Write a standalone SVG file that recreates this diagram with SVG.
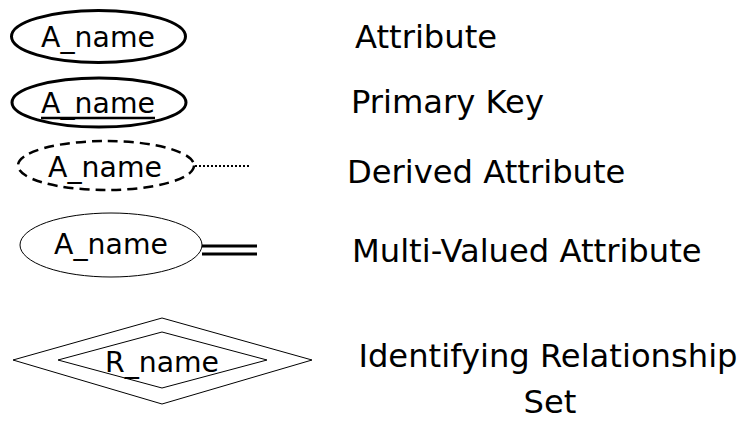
<svg xmlns="http://www.w3.org/2000/svg" width="755" height="429" viewBox="0 0 755 429">
<style>
.nt{font-family:"DejaVu Sans",Verdana,sans-serif;font-size:28.3px;fill:#000;text-anchor:middle}
.lb{font-family:"DejaVu Sans",Verdana,sans-serif;font-size:32.2px;fill:#000}
.sh{fill:#fff;stroke:#000}
</style>
<rect width="755" height="429" fill="#fff"/>
<g id="connectors">
<line x1="195" y1="166" x2="250" y2="166" stroke="#000" stroke-width="2" stroke-dasharray="2,2"/>
<line x1="202" y1="246" x2="257" y2="246" stroke="#000" stroke-width="3"/>
<line x1="202" y1="254" x2="257" y2="254" stroke="#000" stroke-width="3"/>
</g>
<g id="attribute">
<ellipse class="sh" cx="98.5" cy="36.5" rx="87" ry="26" stroke-width="3"/>
<text class="nt" x="98" y="47">A_name</text>
</g>
<g id="primary-key">
<ellipse class="sh" cx="99" cy="102.5" rx="87" ry="24.5" stroke-width="3"/>
<text class="nt" x="98" y="113">A_name</text>
<line x1="41" y1="118" x2="155" y2="118" stroke="#000" stroke-width="2.5"/>
</g>
<g id="derived-attribute">
<ellipse class="sh" cx="106" cy="165.5" rx="88" ry="24.5" stroke-width="2.5" stroke-dasharray="10,6"/>
<text class="nt" x="105" y="177">A_name</text>
</g>
<g id="multi-valued-attribute">
<ellipse class="sh" cx="111" cy="245" rx="91" ry="32" stroke-width="1"/>
<text class="nt" x="111" y="254">A_name</text>
</g>
<g id="identifying-relationship">
<polygon class="sh" points="13,360 162,318 312,360 162,404" stroke-width="1"/>
<polygon class="sh" points="58,360 162,332 267,360 162,388" stroke-width="1"/>
<text class="nt" x="162" y="372">R_name</text>
</g>
<g id="labels">
<text class="lb" x="355" y="48">Attribute</text>
<text class="lb" x="351" y="113">Primary Key</text>
<text class="lb" x="347" y="183">Derived Attribute</text>
<text class="lb" x="352" y="262">Multi-Valued Attribute</text>
<text class="lb" x="548" y="367" text-anchor="middle">Identifying Relationship</text>
<text class="lb" x="550" y="413" text-anchor="middle">Set</text>
</g>
</svg>
